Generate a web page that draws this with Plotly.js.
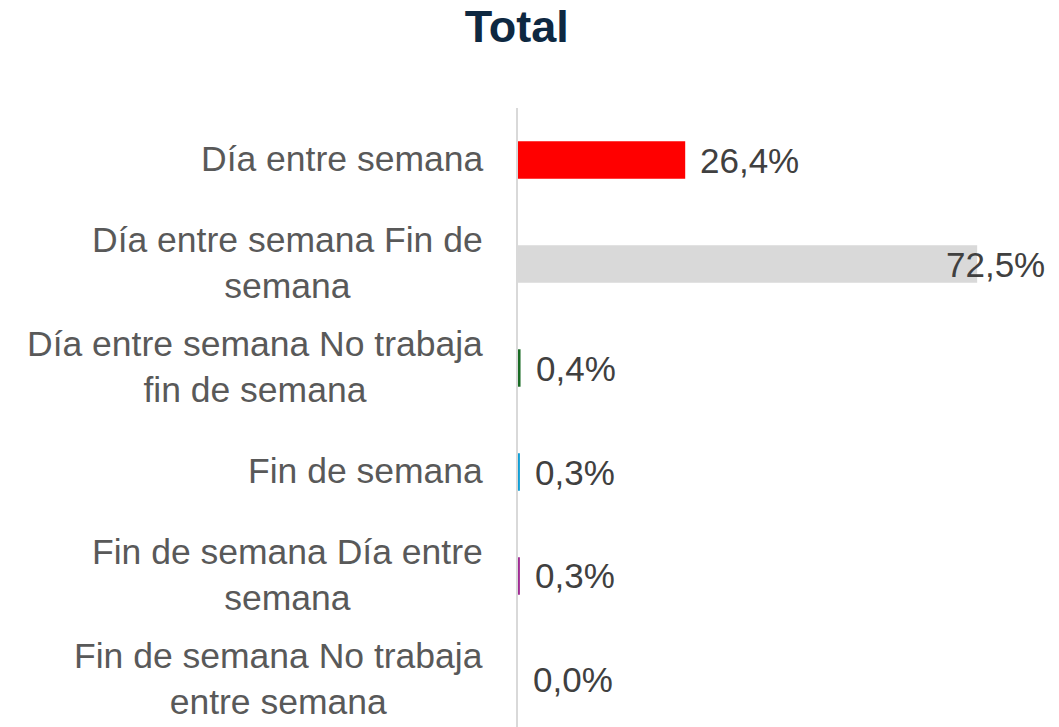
<!DOCTYPE html>
<html>
<head>
<meta charset="utf-8">
<script src="https://cdn.plot.ly/plotly-3.0.1.min.js"></script>
<style>html,body{margin:0;padding:0;background:#fff;}#chart{width:1059px;height:727px;}</style>
</head>
<body>
<div id="chart"></div>
<script>
const categories = [
  "Día entre semana",
  "Día entre semana Fin de<br>semana",
  "Día entre semana No trabaja<br>fin de semana",
  "Fin de semana",
  "Fin de semana Día entre<br>semana",
  "Fin de semana No trabaja<br>entre semana"
];
const values = [26.4, 72.5, 0.4, 0.3, 0.3, 0.0];
const barColors = ["#FF0000", "#D9D9D9", "#196B24", "#0F9ED5", "#A02B93", "#4EA72E"];
const xMax = 84;

const FONT = "Liberation Sans, Arial, sans-serif";
const labelText = values.map(v => v.toFixed(1).replace(".", ",") + "%");

const traces = [
  {
    type: "bar",
    orientation: "h",
    y: categories,
    x: values,
    marker: { color: barColors },
    hoverinfo: "skip",
    showlegend: false
  }
];

// category labels (centred multi-line, right edge beside the axis)
const catAnnotations = categories.map(c => ({
  xref: "paper", yref: "y",
  x: 0, y: c,
  xanchor: "right", yanchor: "middle",
  xshift: -33, yshift: 1,
  align: "center",
  text: c,
  showarrow: false,
  font: { family: FONT, size: 35.5, color: "#595959" }
}));

// data labels; a label that would overflow the plot is pulled back inside it
const dataAnnotations = values.map((v, i) => {
  const overflow = v + 16 > xMax;
  return {
    xref: "x", yref: "y",
    x: overflow ? xMax : v,
    y: categories[i],
    xanchor: overflow ? "right" : "left",
    yanchor: "middle",
    xshift: overflow ? -3 : 13,
    yshift: 0,
    text: labelText[i],
    showarrow: false,
    font: { family: FONT, size: 35, color: "#404040" }
  };
});

const layout = {
  width: 1059,
  height: 727,
  margin: { l: 518, r: 9, t: 108, b: 0 },
  paper_bgcolor: "#ffffff",
  plot_bgcolor: "#ffffff",
  bargap: 0.64,
  title: {
    text: "<b>Total</b>",
    font: { family: FONT, size: 45, color: "#0E2841" },
    x: 0.488, xref: "container", xanchor: "center",
    y: 0.964, yref: "container", yanchor: "middle"
  },
  xaxis: {
    range: [0, xMax],
    showgrid: false, zeroline: false, showticklabels: false, showline: false, fixedrange: true
  },
  yaxis: {
    type: "category",
    range: [5.452, -0.5],
    showgrid: false, zeroline: false,
    showline: true, linecolor: "#D9D9D9", linewidth: 2,
    ticks: "", showticklabels: false,
    fixedrange: true
  },
  annotations: catAnnotations.concat(dataAnnotations),
  font: { family: FONT }
};

Plotly.newPlot("chart", traces, layout, { displayModeBar: false, staticPlot: true });
</script>
</body>
</html>
